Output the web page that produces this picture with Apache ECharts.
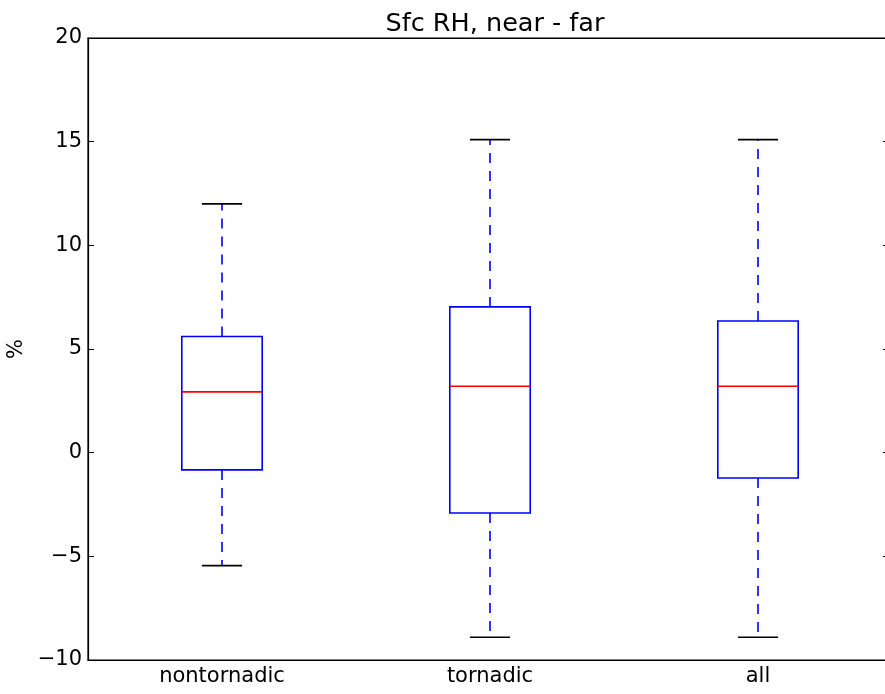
<!DOCTYPE html>
<html>
<head>
<meta charset="utf-8">
<script src="https://cdn.jsdelivr.net/npm/echarts@6/dist/echarts.min.js"></script>
<style>
  html, body { margin: 0; padding: 0; background: #fff; }
  #chart { width: 885px; height: 694px; }
</style>
</head>
<body>
<div id="chart"></div>
<script>
// categories and box statistics
const categories = ['nontornadic', 'tornadic', 'all'];
const whiskerLow = [-5.45, -8.9, -8.9];
const q1 = [-0.83, -2.91, -1.22];
const median = [2.93, 3.2, 3.2];
const q3 = [5.6, 7.03, 6.35];
const whiskerHigh = [12.0, 15.1, 15.1];

const yTicks = [-10, -5, 0, 5, 10, 15, 20];

const boxData = categories.map((c, i) => [i, whiskerLow[i], q1[i], median[i], q3[i], whiskerHigh[i]]);

const chart = echarts.init(document.getElementById('chart'));

const renderBox = (params, api) => {
  const idx = api.value(0);
  const bandW = api.size([1, 0])[0];
  const boxHalf = bandW * 0.3 / 2;
  const capHalf = boxHalf / 2;
  const pLow = api.coord([idx, api.value(1)]);
  const pQ1 = api.coord([idx, api.value(2)]);
  const pMed = api.coord([idx, api.value(3)]);
  const pQ3 = api.coord([idx, api.value(4)]);
  const pHigh = api.coord([idx, api.value(5)]);
  const x = pMed[0];
  const blue = '#0000ff';
  return {
    type: 'group',
    children: [
      { type: 'line', shape: { x1: x, y1: pQ3[1], x2: x, y2: pHigh[1] },
        style: { stroke: blue, lineWidth: 1.6, lineDash: [10, 8] } },
      { type: 'line', shape: { x1: x, y1: pQ1[1], x2: x, y2: pLow[1] },
        style: { stroke: blue, lineWidth: 1.6, lineDash: [10, 8] } },
      { type: 'line', shape: { x1: x - capHalf, y1: pHigh[1], x2: x + capHalf, y2: pHigh[1] },
        style: { stroke: '#000', lineWidth: 1.6 } },
      { type: 'line', shape: { x1: x - capHalf, y1: pLow[1], x2: x + capHalf, y2: pLow[1] },
        style: { stroke: '#000', lineWidth: 1.6 } },
      { type: 'rect', shape: { x: x - boxHalf, y: pQ3[1], width: boxHalf * 2, height: pQ1[1] - pQ3[1] },
        style: { fill: 'none', stroke: blue, lineWidth: 1.6 } },
      { type: 'line', shape: { x1: x - boxHalf, y1: pMed[1], x2: x + boxHalf, y2: pMed[1] },
        style: { stroke: '#ff0000', lineWidth: 1.6 } }
    ]
  };
};

const font = { fontFamily: 'DejaVu Sans', fontSize: 21, color: '#000' };

const options = {
  animation: false,
  backgroundColor: '#fff',
  title: {
    text: 'Sfc RH, near - far',
    left: 490,
    textAlign: 'center',
    top: 6,
    textStyle: { fontFamily: 'DejaVu Sans', fontSize: 25.5, fontWeight: 'normal', color: '#000' }
  },
  grid: {
    left: 88,
    width: 804,
    top: 38,
    bottom: 34,
    outerBoundsMode: 'none',
    containLabel: false,
    show: true,
    borderColor: '#000',
    borderWidth: 1.2
  },
  xAxis: [
    {
      type: 'category',
      data: categories,
      position: 'bottom',
      axisLine: { onZero: false, lineStyle: { color: '#000', width: 1.2 } },
      axisTick: { inside: true, alignWithLabel: true, length: 6, lineStyle: { color: '#000' } },
      axisLabel: Object.assign({ margin: 6 }, font)
    },
    {
      type: 'category',
      data: categories,
      position: 'top',
      axisLine: { onZero: false, lineStyle: { color: '#000', width: 1.2 } },
      axisTick: { inside: true, alignWithLabel: true, length: 6, lineStyle: { color: '#000' } },
      axisLabel: { show: false }
    }
  ],
  yAxis: [
    {
      type: 'value',
      min: yTicks[0],
      max: yTicks[yTicks.length - 1],
      interval: 5,
      name: '%',
      nameLocation: 'middle',
      nameGap: 58,
      nameRotate: 90,
      nameTextStyle: { fontFamily: 'DejaVu Sans', fontSize: 21, color: '#000' },
      axisLine: { show: true, lineStyle: { color: '#000', width: 1.2 } },
      axisTick: { show: true, inside: true, length: 6, lineStyle: { color: '#000' } },
      splitLine: { show: false },
      axisLabel: Object.assign({
        margin: 6,
        formatter: v => (v < 0 ? '\u2212' + Math.abs(v) : String(v))
      }, font)
    },
    {
      type: 'value',
      position: 'right',
      min: yTicks[0],
      max: yTicks[yTicks.length - 1],
      interval: 5,
      axisLine: { show: false },
      axisTick: { show: true, inside: true, length: 9, lineStyle: { color: '#000' } },
      splitLine: { show: false },
      axisLabel: { show: false }
    }
  ],
  series: [
    {
      type: 'custom',
      renderItem: renderBox,
      encode: { x: 0, y: [1, 2, 3, 4, 5] },
      data: boxData
    }
  ]
};

chart.setOption(options);
</script>
</body>
</html>
